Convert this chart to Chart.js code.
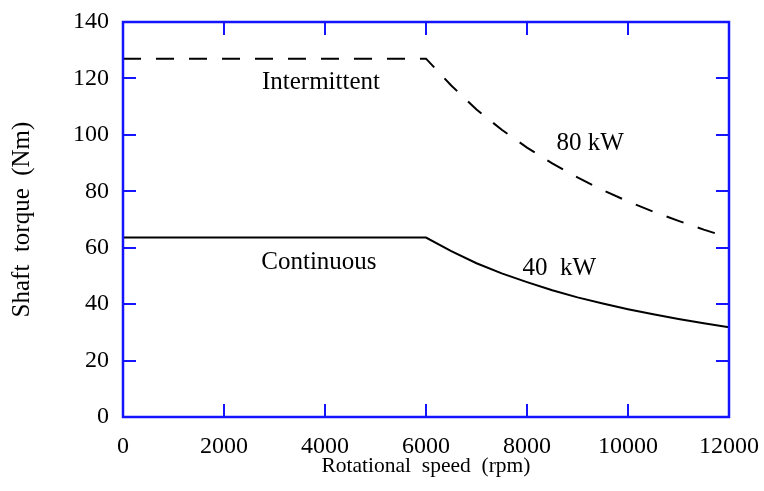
<!DOCTYPE html>
<html>
<head>
<meta charset="utf-8">
<script src="https://cdn.jsdelivr.net/npm/chart.js@4/dist/chart.umd.min.js"></script>
<style>
  html, body { margin: 0; padding: 0; background: #fff; }
  #wrap { width: 764px; height: 491px; }
</style>
</head>
<body>
<div id="wrap"><canvas id="torqueChart"></canvas></div>
<script>
// speed in rpm, torque in Nm
const speedRpm = [0, 6000, 6500, 7000, 7500, 8000, 8500, 9000, 9500, 10000, 10500, 11000, 11500, 12000];
const intermittentNm = [127, 127, 117.5, 109, 101.8, 95.5, 89.9, 84.9, 80.4, 76.4, 72.8, 69.5, 66.4, 63.6];
const continuousNm = [63.6, 63.6, 58.8, 54.5, 50.9, 47.8, 44.9, 42.4, 40.2, 38.2, 36.4, 34.7, 33.2, 31.8];

const xTicks = [0, 2000, 4000, 6000, 8000, 10000, 12000];
const yTicks = [0, 20, 40, 60, 80, 100, 120, 140];

// curve labels placed in data units
const noteText = ["Intermittent", "Continuous", "80 kW", "40  kW"];
const noteX = [3920, 3880, 9250, 8640];
const noteY = [118.7, 54.9, 97.1, 52.5];

const blue = "#1414ff";
const serif = "'Liberation Serif', 'Times New Roman', serif";

function toPoints(xs, ys) {
    return xs.map(function (x, i) { return { x: x, y: ys[i] }; });
}

// frame box, inward ticks on all four sides, and curve notes
const framePlugin = {
    id: "frame",
    afterDraw: function (chart) {
        var ctx = chart.ctx;
        var a = chart.chartArea;
        var xs = chart.scales.x, ys = chart.scales.y;
        var len = 13;
        ctx.save();
        ctx.strokeStyle = blue;
        ctx.lineWidth = 2;
        ctx.beginPath();
        xTicks.forEach(function (v) {
            var px = Math.round(xs.getPixelForValue(v));
            ctx.moveTo(px, a.bottom); ctx.lineTo(px, a.bottom - len);
            ctx.moveTo(px, a.top); ctx.lineTo(px, a.top + len);
        });
        yTicks.forEach(function (v) {
            var py = Math.round(ys.getPixelForValue(v));
            ctx.moveTo(a.left, py); ctx.lineTo(a.left + len, py);
            ctx.moveTo(a.right, py); ctx.lineTo(a.right - len, py);
        });
        ctx.stroke();
        ctx.lineWidth = 2.5;
        ctx.strokeRect(a.left, a.top, a.right - a.left, a.bottom - a.top);

        ctx.fillStyle = "#000";
        ctx.font = "25px " + serif;
        ctx.textAlign = "center";
        ctx.textBaseline = "middle";
        noteText.forEach(function (t, i) {
            ctx.fillText(t, xs.getPixelForValue(noteX[i]), ys.getPixelForValue(noteY[i]));
        });
        ctx.restore();
    }
};

new Chart("torqueChart", {
    type: "line",
    data: {
        datasets: [{
            label: "Intermittent",
            data: toPoints(speedRpm, intermittentNm),
            borderColor: "#000",
            borderWidth: 2,
            borderDash: [18, 15],
            pointRadius: 0,
            tension: 0,
            fill: false
        }, {
            label: "Continuous",
            data: toPoints(speedRpm, continuousNm),
            borderColor: "#000",
            borderWidth: 2,
            pointRadius: 0,
            tension: 0,
            fill: false
        }]
    },
    options: {
        responsive: true,
        maintainAspectRatio: false,
        animation: false,
        layout: { padding: { left: 0, right: 35, top: 22, bottom: 0 } },
        plugins: {
            legend: { display: false },
            tooltip: { enabled: false }
        },
        scales: {
            x: {
                type: "linear",
                min: 0,
                max: 12000,
                afterBuildTicks: function (s) { s.ticks = xTicks.map(function (v) { return { value: v }; }); },
                afterFit: function (s) {
                    s.height = 74;
                    s.paddingLeft = 0;
                    s.paddingRight = 0;
                },
                grid: { display: false, drawTicks: false },
                border: { display: false },
                ticks: {
                    color: "#000",
                    padding: 15,
                    maxRotation: 0,
                    callback: function (v) { return String(v); },
                    font: { family: serif, size: 24 }
                },
                title: {
                    display: true,
                    text: "Rotational  speed  (rpm)",
                    color: "#000",
                    padding: { top: 0, bottom: 12 },
                    font: { family: serif, size: 21.5 }
                }
            },
            y: {
                min: 0,
                max: 140,
                afterBuildTicks: function (s) { s.ticks = yTicks.map(function (v) { return { value: v }; }); },
                afterFit: function (s) {
                    s.width = 123;
                    s.paddingTop = 0;
                    s.paddingBottom = 0;
                },
                grid: { display: false, drawTicks: false },
                border: { display: false },
                ticks: {
                    color: "#000",
                    padding: 14,
                    callback: function (v) { return String(v); },
                    font: { family: serif, size: 24 }
                },
                title: {
                    display: true,
                    text: "Shaft  torque  (Nm)",
                    color: "#000",
                    padding: { top: 7, bottom: 0 },
                    font: { family: serif, size: 25 }
                }
            }
        }
    },
    plugins: [framePlugin]
});
</script>
</body>
</html>
